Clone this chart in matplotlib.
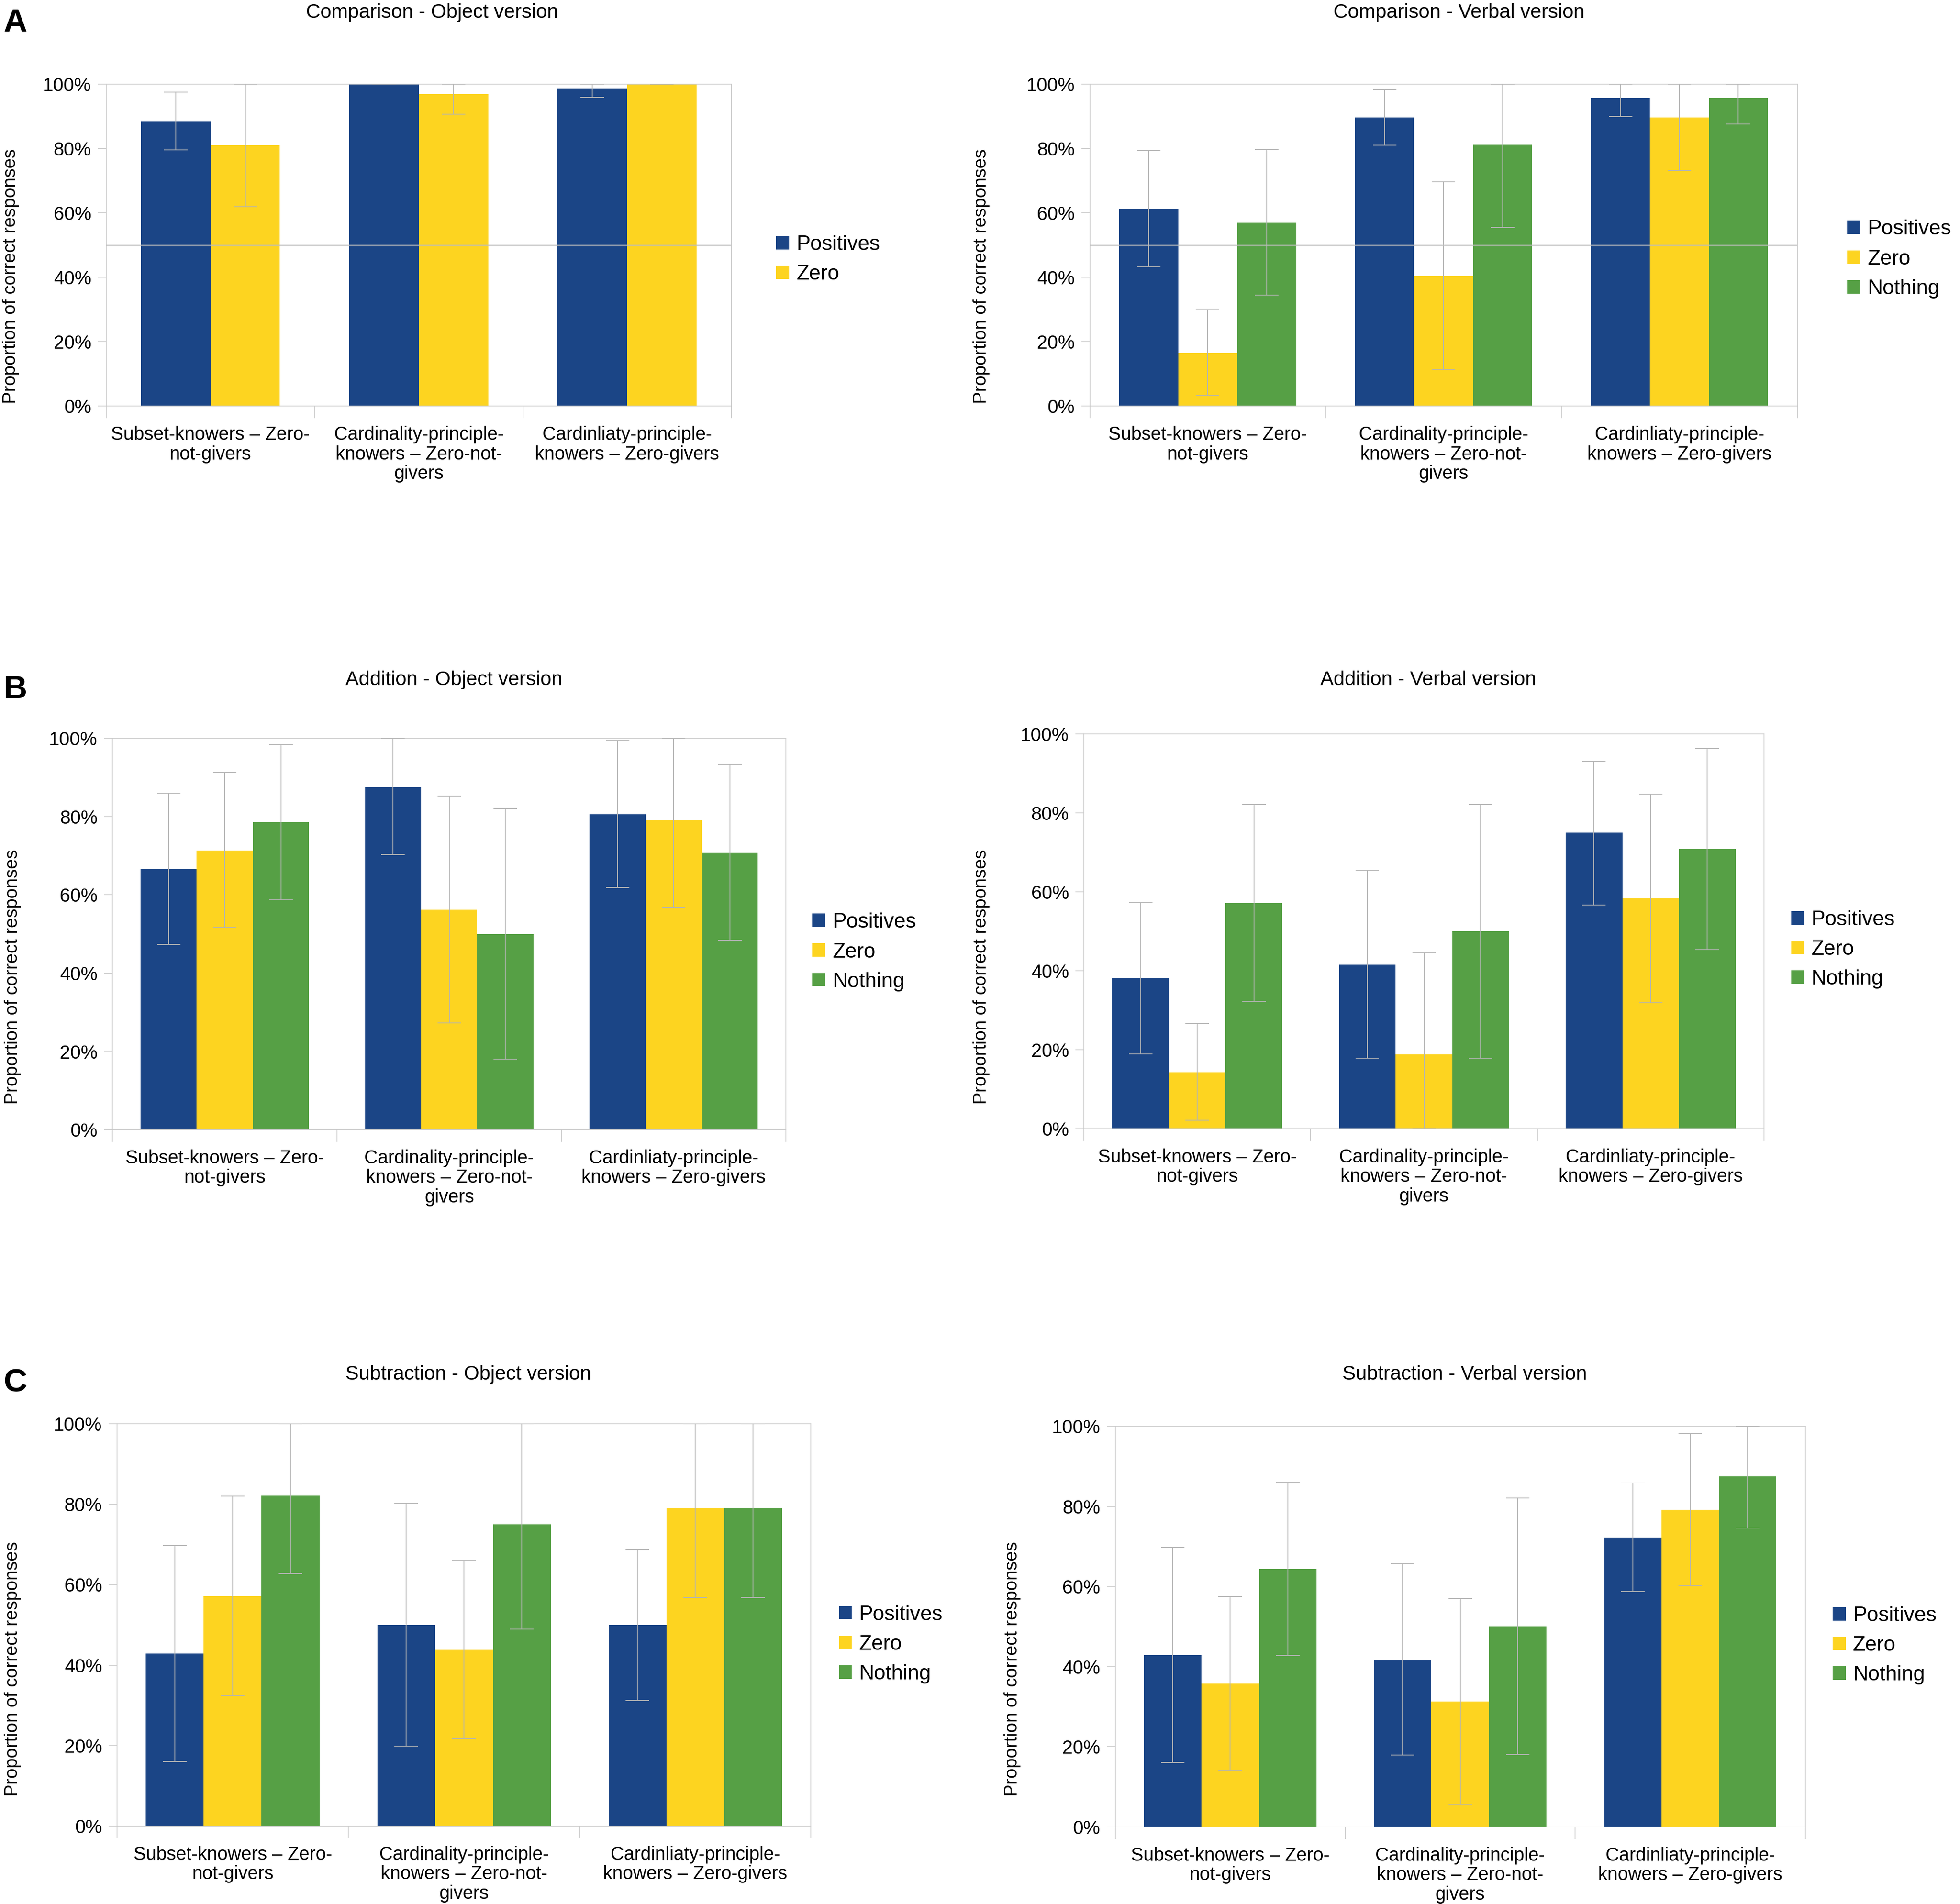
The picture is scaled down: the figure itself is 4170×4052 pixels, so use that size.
import matplotlib.pyplot as plt
from matplotlib.patches import Patch
from matplotlib.ticker import FuncFormatter

plt.rcParams['font.family'] = ['Liberation Sans', 'DejaVu Sans']

groups = ['Subset-knowers – Zero-\nnot-givers',
          'Cardinality-principle-\nknowers – Zero-not-\ngivers',
          'Cardinliaty-principle-\nknowers – Zero-givers']
series_names = ['Positives', 'Zero', 'Nothing']
series_colors = ['#1b4586', '#fdd420', '#56a045']

# Comparison - Object version (values, lower CI, upper CI)
comp_obj_pos = [88.5, 100.0, 98.7]
comp_obj_pos_lo = [79.6, 100.0, 95.9]
comp_obj_pos_hi = [97.5, 100.0, 100.0]
comp_obj_zero = [81.1, 96.9, 100.0]
comp_obj_zero_lo = [61.9, 90.7, 100.0]
comp_obj_zero_hi = [100.0, 100.0, 100.0]

# Comparison - Verbal version
comp_verb_pos = [61.4, 89.6, 95.8]
comp_verb_pos_lo = [43.3, 81.0, 90.0]
comp_verb_pos_hi = [79.5, 98.3, 100.0]
comp_verb_zero = [16.6, 40.5, 89.6]
comp_verb_zero_lo = [3.4, 11.4, 73.1]
comp_verb_zero_hi = [29.9, 69.7, 100.0]
comp_verb_noth = [57.0, 81.2, 95.8]
comp_verb_noth_lo = [34.5, 55.5, 87.6]
comp_verb_noth_hi = [79.7, 100.0, 100.0]

# Addition - Object version
add_obj_pos = [66.6, 87.5, 80.6]
add_obj_pos_lo = [47.3, 70.3, 61.9]
add_obj_pos_hi = [86.0, 100.0, 99.4]
add_obj_zero = [71.4, 56.2, 79.1]
add_obj_zero_lo = [51.7, 27.3, 56.8]
add_obj_zero_hi = [91.3, 85.3, 100.0]
add_obj_noth = [78.5, 50.0, 70.8]
add_obj_noth_lo = [58.7, 18.0, 48.4]
add_obj_noth_hi = [98.4, 82.0, 93.3]

# Addition - Verbal version
add_verb_pos = [38.2, 41.6, 75.0]
add_verb_pos_lo = [18.9, 17.9, 56.7]
add_verb_pos_hi = [57.3, 65.5, 93.1]
add_verb_zero = [14.3, 18.8, 58.3]
add_verb_zero_lo = [2.1, 0.0, 31.9]
add_verb_zero_hi = [26.7, 44.5, 84.8]
add_verb_noth = [57.1, 50.0, 70.8]
add_verb_noth_lo = [32.3, 17.9, 45.4]
add_verb_noth_hi = [82.1, 82.1, 96.3]

# Subtraction - Object version
sub_obj_pos = [42.9, 50.0, 50.0]
sub_obj_pos_lo = [16.0, 19.8, 31.2]
sub_obj_pos_hi = [69.8, 80.3, 68.8]
sub_obj_zero = [57.1, 43.8, 79.1]
sub_obj_zero_lo = [32.4, 21.7, 56.8]
sub_obj_zero_hi = [82.0, 66.0, 100.0]
sub_obj_noth = [82.1, 75.0, 79.1]
sub_obj_noth_lo = [62.7, 48.9, 56.8]
sub_obj_noth_hi = [100.0, 100.0, 100.0]

# Subtraction - Verbal version
sub_verb_pos = [42.9, 41.7, 72.2]
sub_verb_pos_lo = [16.1, 17.9, 58.7]
sub_verb_pos_hi = [69.8, 65.6, 85.8]
sub_verb_zero = [35.8, 31.3, 79.1]
sub_verb_zero_lo = [14.1, 5.6, 60.3]
sub_verb_zero_hi = [57.4, 57.0, 98.1]
sub_verb_noth = [64.3, 50.0, 87.5]
sub_verb_noth_lo = [42.8, 18.0, 74.6]
sub_verb_noth_hi = [85.9, 82.1, 100.0]

chance_level = 50

frame_col = '#c8c8c8'
err_col = '#b4b4b4'

fig = plt.figure(figsize=(41.7, 40.52), dpi=100)


def draw_panel(rect, title, title_xy, vals, los, his, leg_xy, ylab_xy, chance=False):
    ax = fig.add_axes(rect)
    n = len(vals)
    w = 1.0 / (n + 1)
    xs = range(len(groups))
    handles = []
    for i in range(n):
        pos = [x + (i - (n - 1) / 2) * w for x in xs]
        ax.bar(pos, vals[i], width=w, color=series_colors[i], zorder=2)
        yerr = [[v - l for v, l in zip(vals[i], los[i])],
                [h - v for v, h in zip(vals[i], his[i])]]
        ax.errorbar(pos, vals[i], yerr=yerr, fmt='none', ecolor=err_col,
                    elinewidth=1.3, capsize=18, capthick=1.3, zorder=3)
        handles.append(Patch(facecolor=series_colors[i], label=series_names[i]))
    if chance:
        ax.axhline(chance_level, color='#bcbcbc', lw=1.6, zorder=4)
    ax.set_xlim(-0.5, len(groups) - 0.5)
    ax.set_ylim(0, 100)
    ax.set_yticks([0, 20, 40, 60, 80, 100])
    ax.yaxis.set_major_formatter(FuncFormatter(lambda v, p: f'{v:.0f}%'))
    ax.tick_params(axis='y', labelsize=29, length=13, width=1.2, color=frame_col, pad=10)
    ax.set_xticks([-0.5, 0.5, 1.5, 2.5])
    ax.set_xticklabels([])
    ax.set_xticks(list(xs), minor=True)
    ax.set_xticklabels(groups, minor=True, fontsize=28.5, linespacing=1.12)
    ax.tick_params(axis='x', which='major', length=19, width=1.2, color=frame_col)
    ax.tick_params(axis='x', which='minor', length=0, pad=30)
    for sp in ax.spines.values():
        sp.set_color(frame_col)
        sp.set_linewidth(1.2)
    fig.text(title_xy[0], title_xy[1], title, ha='center', va='center', fontsize=30.5)
    fig.text(ylab_xy[0], ylab_xy[1], 'Proportion of correct responses', rotation=90,
             ha='center', va='center', fontsize=28)
    ax.legend(handles=handles, loc='center left', bbox_to_anchor=leg_xy,
              bbox_transform=fig.transFigure, frameon=False, fontsize=32,
              handlelength=0.62, handleheight=0.62, handletextpad=0.35,
              labelspacing=0.5, borderpad=0, borderaxespad=0)
    return ax


draw_panel([0.0542, 0.7867, 0.3189, 0.1691], 'Comparison - Object version', (0.2205, 0.9934),
           [comp_obj_pos, comp_obj_zero],
           [comp_obj_pos_lo, comp_obj_zero_lo],
           [comp_obj_pos_hi, comp_obj_zero_hi],
           (0.396, 0.8638), (0.0055, 0.855), chance=True)

draw_panel([0.556, 0.7867, 0.361, 0.1691], 'Comparison - Verbal version', (0.7443, 0.9934),
           [comp_verb_pos, comp_verb_zero, comp_verb_noth],
           [comp_verb_pos_lo, comp_verb_zero_lo, comp_verb_noth_lo],
           [comp_verb_pos_hi, comp_verb_zero_hi, comp_verb_noth_hi],
           (0.9425, 0.864), (0.5006, 0.855), chance=True)

draw_panel([0.0574, 0.4067, 0.3436, 0.2055], 'Addition - Object version', (0.2315, 0.643),
           [add_obj_pos, add_obj_zero, add_obj_noth],
           [add_obj_pos_lo, add_obj_zero_lo, add_obj_noth_lo],
           [add_obj_pos_hi, add_obj_zero_hi, add_obj_noth_hi],
           (0.4145, 0.5), (0.0064, 0.487))

draw_panel([0.553, 0.4072, 0.347, 0.2073], 'Addition - Verbal version', (0.7286, 0.643),
           [add_verb_pos, add_verb_zero, add_verb_noth],
           [add_verb_pos_lo, add_verb_zero_lo, add_verb_noth_lo],
           [add_verb_pos_hi, add_verb_zero_hi, add_verb_noth_hi],
           (0.9138, 0.5013), (0.5006, 0.487))

draw_panel([0.0597, 0.041, 0.354, 0.2112], 'Subtraction - Object version', (0.239, 0.2782),
           [sub_obj_pos, sub_obj_zero, sub_obj_noth],
           [sub_obj_pos_lo, sub_obj_zero_lo, sub_obj_noth_lo],
           [sub_obj_pos_hi, sub_obj_zero_hi, sub_obj_noth_hi],
           (0.428, 0.1364), (0.0064, 0.1234))

draw_panel([0.569, 0.0405, 0.352, 0.2105], 'Subtraction - Verbal version', (0.7474, 0.2782),
           [sub_verb_pos, sub_verb_zero, sub_verb_noth],
           [sub_verb_pos_lo, sub_verb_zero_lo, sub_verb_noth_lo],
           [sub_verb_pos_hi, sub_verb_zero_hi, sub_verb_noth_hi],
           (0.935, 0.1358), (0.5166, 0.1234))

for letter, y in [('A', 0.988), ('B', 0.6378), ('C', 0.2736)]:
    fig.text(0.0077, y, letter, ha='center', va='center', fontsize=50, fontweight='bold')

fig.savefig('out.png', dpi=100)
